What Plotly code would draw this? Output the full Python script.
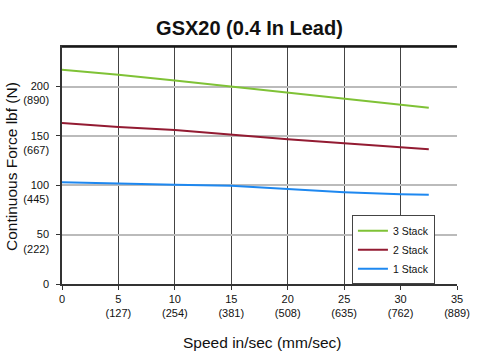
import plotly.graph_objects as go

speed = [0, 5, 10, 15, 20, 25, 30, 32.5]
stack3 = [217, 212, 206, 200, 194, 187.5, 181.5, 178.5]
stack2 = [163, 159, 156, 151, 146.5, 142.5, 139, 136.5]
stack1 = [103, 101.5, 100.5, 99.5, 96, 93, 91, 90.5]

x_ticks = [0, 5, 10, 15, 20, 25, 30, 35]
x_ticktext = ["0", "5<br>(127)", "10<br>(254)", "15<br>(381)", "20<br>(508)",
              "25<br>(635)", "30<br>(762)", "35<br>(889)"]
y_ticks = [0, 50, 100, 150, 200]
y_ticktext = ["0<br> ", "50<br>(222)", "100<br>(445)", "150<br>(667)", "200<br>(890)"]

font_family = "Liberation Sans, Arial, sans-serif"

fig = go.Figure()
fig.add_trace(go.Scatter(x=speed, y=stack3, mode="lines", name="3 Stack",
                         line=dict(color="#7fc236", width=2)))
fig.add_trace(go.Scatter(x=speed, y=stack2, mode="lines", name="2 Stack",
                         line=dict(color="#931b32", width=2)))
fig.add_trace(go.Scatter(x=speed, y=stack1, mode="lines", name="1 Stack",
                         line=dict(color="#1e88f0", width=2)))

fig.update_layout(
    width=493, height=356,
    margin=dict(l=62, r=36, t=47, b=72, autoexpand=False),
    paper_bgcolor="white", plot_bgcolor="white",
    font=dict(family=font_family, color="#111"),
    title=dict(text="<b>GSX20 (0.4 In Lead)</b>", x=0.506, xanchor="center",
               yref="container", y=1 - 28 / 356, yanchor="middle",
               font=dict(size=20, color="#111")),
    legend=dict(x=0.734, y=0.29, xanchor="left", yanchor="top",
                bordercolor="#444", borderwidth=1, bgcolor="white",
                font=dict(size=10.5, color="#111", family=font_family),
                tracegroupgap=0, itemwidth=30),
    showlegend=True,
)
fig.update_xaxes(
    range=[0, 35], tickvals=x_ticks, ticktext=x_ticktext,
    showgrid=True, gridcolor="#444", gridwidth=1,
    showline=True, linecolor="#333", linewidth=1.5, mirror=True,
    ticks="outside", ticklen=4, tickcolor="#333",
    tickfont=dict(size=11, color="#111"),
    automargin=False, zeroline=False,
)
fig.update_yaxes(
    range=[0, 240], tickvals=y_ticks, ticktext=y_ticktext,
    showgrid=True, gridcolor="#bbbbbb", gridwidth=1.5,
    showline=True, linecolor="#333", linewidth=1.5,
    ticks="outside", ticklen=4, tickcolor="#333",
    tickfont=dict(size=11, color="#111"),
    ticklabelshift=7, ticklabelstandoff=5,
    automargin=False, zeroline=False,
)
fig.add_shape(type="line", xref="paper", x0=0, x1=1, yref="y", y0=200, y1=200,
              line=dict(color="#666", width=1.2), layer="below")
fig.add_shape(type="line", xref="paper", x0=0, x1=1, yref="paper", y0=1, y1=1,
              line=dict(color="#111", width=1.5))

fig.add_annotation(text="Speed in/sec (mm/sec)", xref="paper", yref="paper",
                   x=(262 - 62) / 395, y=-(342 - 284) / 237, xanchor="center",
                   yanchor="middle", showarrow=False,
                   font=dict(size=15.5, color="#111"))
fig.add_annotation(text="Continuous Force lbf (N)", xref="paper", yref="paper",
                   x=-(62 - 11) / 395, y=(284 - 167) / 237, xanchor="center",
                   yanchor="middle", showarrow=False, textangle=-90,
                   font=dict(size=15.5, color="#111"))

fig.write_html("out.html", config={"displayModeBar": False},
               post_script="document.body.style.margin='0';document.body.style.padding='0';")
